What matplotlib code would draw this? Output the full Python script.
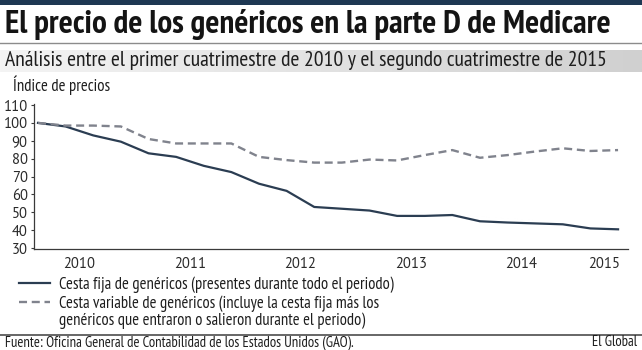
"""Índice de precios de genéricos en Medicare parte D, 2010-2015."""
import matplotlib
matplotlib.use("Agg")
import numpy as np
import matplotlib.pyplot as plt
from matplotlib import font_manager
from matplotlib.patches import Rectangle

W, H = 642, 350

# datos por trimestre
periodos = list(range(22))
cesta_fija = [100, 98, 93, 89.5, 83, 81, 76, 72.5, 66, 62, 53, 52,
              51, 48, 48, 48.5, 45, 44.3, 43.8, 43.3, 41, 40.5]
cesta_variable = [100, 98.5, 98.5, 98, 91, 88.5, 88.5, 88.5, 81, 79.2, 77.8, 77.8,
                  79.5, 79, 82, 84.8, 80.5, 82, 84, 85.8, 84.3, 84.8]
anios = ["2010", "2011", "2012", "2013", "2014", "2015"]
pos_anios = [1.5, 5.5, 9.5, 13.5, 17.5, 20.5]
ticks_y = list(range(30, 111, 10))

titulo = "El precio de los genéricos en la parte D de Medicare"
subtitulo = "Análisis entre el primer cuatrimestre de 2010 y el segundo cuatrimestre de 2015"
etiqueta_y = "Índice de precios"
leyenda_fija = "Cesta fija de genéricos (presentes durante todo el periodo)"
leyenda_var = "Cesta variable de genéricos (incluye la cesta fija más los"
leyenda_var2 = "genéricos que entraron o salieron durante el periodo)"
fuente = "Fuente: Oficina General de Contabilidad de los Estados Unidos (GAO)."
firma = "El Global"

instaladas = {f.name for f in font_manager.fontManager.ttflist}


def primera(opciones):
    for o in opciones:
        if o in instaladas:
            return o
    return "DejaVu Sans"


ESTRECHA = primera(["PT Sans Narrow", "Fira Sans Condensed", "Asap Condensed",
                    "Archivo Narrow", "Liberation Sans Narrow"])
NUM = primera(["PT Sans", "Lato", "Open Sans"])

C_FIJA = "#2b3d52"
C_VAR = "#80838d"
C_TXT = "#1e1e1e"

fig = plt.figure(figsize=(W / 100, H / 100), dpi=100)
fondo = fig.add_axes([0, 0, 1, 1], zorder=0)
fondo.axis("off")

# barra superior, líneas y banda degradada del subtítulo
fondo.add_patch(Rectangle((0, 0), W, 4.5, color="#1e3853", lw=0))
fondo.plot([0, W], [42.5, 42.5], color="#8c8c8c", lw=1.0)
grad = np.linspace(0, 1, 256).reshape(1, -1)
fondo.imshow(grad, extent=(0, W, 72, 50), cmap=matplotlib.colors.LinearSegmentedColormap.from_list(
    "g", ["#f4f4f4", "#d0d0d0"]), aspect="auto", zorder=0)
fondo.plot([0, W], [335, 335], color="#5a5a5a", lw=1.3)
fondo.set_xlim(0, W)
fondo.set_ylim(H, 0)

rend = fig.canvas.get_renderer()


def px(x, y):
    return x / W, 1 - y / H


def ajusta_ancho(t, ancho):
    bb = t.get_window_extent(renderer=rend)
    t.set_fontsize(t.get_fontsize() * ancho / bb.width)


t = fig.text(*px(5, 33), titulo, family=ESTRECHA, weight="bold", fontsize=18,
             color="#141414", va="baseline")
ajusta_ancho(t, 607)
t = fig.text(*px(5, 65.5), subtitulo, family=ESTRECHA, fontsize=12, color=C_TXT, va="baseline")
ajusta_ancho(t, 601)
t = fig.text(*px(13, 91), etiqueta_y, family=ESTRECHA, fontsize=10, color=C_TXT, va="baseline")
ajusta_ancho(t, 97)
t = fig.text(*px(5, 346.5), fuente, family=ESTRECHA, fontsize=8, color=C_TXT, va="baseline")
ajusta_ancho(t, 350)
fs_fuente = t.get_fontsize()
fig.text(*px(637, 346.5), firma, family=ESTRECHA, fontsize=fs_fuente, color=C_TXT,
         va="baseline", ha="right")

# gráfico principal
ax = fig.add_axes([34 / W, 1 - 249 / H, (628 - 34) / W, (249 - 104) / H], zorder=1)
ax.patch.set_alpha(0)
l_fija, = ax.plot(periodos, cesta_fija, color=C_FIJA, lw=1.6, solid_joinstyle="round")
l_var, = ax.plot(periodos, cesta_variable, color=C_VAR, lw=1.7, dashes=(3.4, 2.0))
ax.set_xlim(-0.145, 21.36)
ax.set_ylim(29.5, 110.56)
ax.set_yticks(ticks_y)
ax.set_xticks(pos_anios)
ax.set_xticklabels(anios)
for s in ("top", "right"):
    ax.spines[s].set_visible(False)
for s in ("left", "bottom"):
    ax.spines[s].set_color("#3a3a3a")
    ax.spines[s].set_linewidth(0.9)
ax.tick_params(axis="y", length=2, width=0.8, color="#3a3a3a", pad=2.5,
               labelsize=10.5, labelcolor="#2a2a2a")
ax.tick_params(axis="x", length=0, pad=5.5, labelsize=10.5, labelcolor="#2a2a2a")
for lab in ax.get_xticklabels() + ax.get_yticklabels():
    lab.set_family(NUM)

# leyenda
tmp = fig.text(0, 0, leyenda_fija, family=ESTRECHA, fontsize=10)
fs_ley = 10 * 335 / tmp.get_window_extent(renderer=rend).width
tmp.remove()


def crea_leyenda(espacio, ancla):
    lg = fig.legend([l_fija, l_var], [leyenda_fija, leyenda_var], loc="upper left",
                    bbox_to_anchor=ancla, bbox_transform=fig.transFigure, frameon=False,
                    borderpad=0, borderaxespad=0,
                    handlelength=22.3 / fs_ley, handletextpad=6.5 / fs_ley,
                    labelspacing=espacio, prop={"family": ESTRECHA, "size": fs_ley})
    for tx in lg.get_texts():
        tx.set_color(C_TXT)
    fig.canvas.draw()
    return lg, [tx.get_window_extent(renderer=rend) for tx in lg.get_texts()]


ley, (b1, b2) = crea_leyenda(0.3, px(19, 276))
sep = ((b1.y0 + b1.y1) - (b2.y0 + b2.y1)) / 2
espacio = 0.3 + (19.5 - sep) * 0.72 / fs_ley
ley.remove()
ley, (b1, b2) = crea_leyenda(espacio, px(19, 276))
dy = (H - 284.5) - (b1.y0 + b1.y1) / 2
dx = 59 - b1.x0
ley.remove()
ley, (b1, b2) = crea_leyenda(espacio, px(19 + dx, 276 - dy))
fig.text(b2.x0 / W, (b2.y0 - 16.5) / H, leyenda_var2, family=ESTRECHA, fontsize=fs_ley,
         color=C_TXT, va="bottom")

fig.savefig("out.png", dpi=100)
